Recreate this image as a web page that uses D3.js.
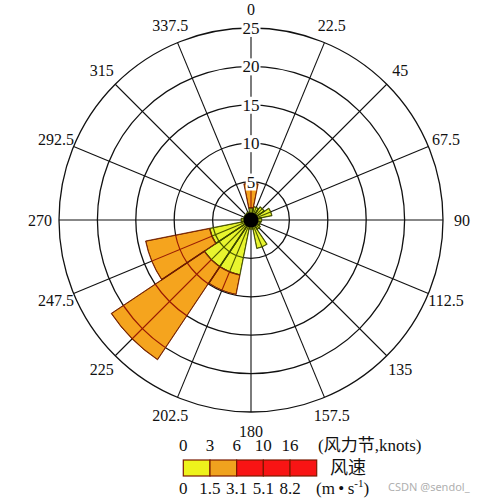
<!DOCTYPE html>
<html lang="en">
<head>
<meta charset="UTF-8">
<title>wind rose</title>
<style>
  body { margin: 0; background: #fff; }
  svg text { font-family: "Liberation Serif", "Noto Sans CJK SC", serif; fill: #111; }
</style>
</head>
<body>
<div id="sv"></div>
<script src="https://cdnjs.cloudflare.com/ajax/libs/d3/7.8.5/d3.min.js"></script>
<script>
// directions (deg) and their labels
var directions = [0, 22.5, 45, 67.5, 90, 112.5, 135, 157.5, 180, 202.5, 225, 247.5, 270, 292.5, 315, 337.5];
var dirLabels = ["0", "22.5", "45", "67.5", "90", "112.5", "135", "157.5", "180", "202.5", "225", "247.5", "270", "292.5", "315", "337.5"];
// frequency per speed class
var calm  = [1.6, 1.8, 2.1, 2.8, 1.4, 1.3, 1.5, 3.8, 1.2, 7.3, 7.3, 5.5, 1.3, 1.0, 1.0, 1.1];  // 0-1.5 m/s
var light = [3.2, 0, 0, 0, 0, 0, 0, 0, 0, 2.6, 14.6, 8.5, 0, 0, 0, 0];                         // 1.5-3.1 m/s
var ringTicks = [5, 10, 15, 20, 25];
// legend
var knotTicks = ["0", "3", "6", "10", "16"];
var msTicks = ["0", "1.5", "3.1", "5.1", "8.2"];
var legendColors = ["#eef21c", "#f0a21e", "#f81414", "#f81414", "#f81414"];

var W = 498, H = 500;
var cx = 251, cy = 220, R = 192;

var svg = d3.select("#sv").append("svg").attr("width", W).attr("height", H);
var g = svg.append("g").attr("transform", "translate(" + cx + "," + cy + ")");

var r = d3.scaleLinear().domain([0, 25]).range([0, R]);
var rad = function (deg) { return deg * Math.PI / 180; };
var half = 11.25;

function drawGrid(sel, color, w) {
    sel.selectAll("circle.ring").data(ringTicks).enter().append("circle")
        .attr("class", "ring")
        .attr("r", d => r(d))
        .attr("fill", "none").attr("stroke", color).attr("stroke-width", w);
    sel.selectAll("line.spoke").data(directions).enter().append("line")
        .attr("class", "spoke")
        .attr("x1", 0).attr("y1", 0)
        .attr("x2", d => r(25) * Math.sin(rad(d)))
        .attr("y2", d => -r(25) * Math.cos(rad(d)))
        .attr("stroke", color).attr("stroke-width", w * 0.85);
}

// base grid
drawGrid(g.append("g"), "#111", 1.3);

// stacked bars
var table = directions.map((d, i) => ({ dir: d, calm: calm[i], light: light[i] }));
var stack = d3.stack().keys(["calm", "light"])(table);
var arc = d3.arc()
    .innerRadius(d => r(d[0]))
    .outerRadius(d => r(d[1]))
    .startAngle(d => rad(d.data.dir - half))
    .endAngle(d => rad(d.data.dir + half));

var fills = { calm: "#e8f52e", light: "#f5a41e" };
var strokes = { calm: "#3c4800", light: "#6e1c00" };
var gridInside = { calm: "#4c5800", light: "#9a1c04" };

var defs = svg.append("defs");
stack.forEach(function (layer) {
    var segs = layer.filter(d => d[1] > d[0]);
    var cp = defs.append("clipPath").attr("id", "clip-" + layer.key);
    cp.selectAll("path").data(segs).enter().append("path").attr("d", arc);
});

stack.forEach(function (layer) {
    var segs = layer.filter(d => d[1] > d[0]);
    g.append("g").selectAll("path").data(segs).enter().append("path")
        .attr("d", arc)
        .attr("fill", fills[layer.key])
        .attr("stroke", strokes[layer.key])
        .attr("stroke-width", 0.8);
    // grid lines seen through the bars
    var gg = g.append("g").attr("clip-path", "url(#clip-" + layer.key + ")");
    drawGrid(gg, gridInside[layer.key], 1.3);
    gg.selectAll("path").data(segs).enter().append("path")
        .attr("d", arc).attr("fill", "none")
        .attr("stroke", strokes[layer.key]).attr("stroke-width", 1.4);
});

// hub
g.append("circle").attr("r", 7.5).attr("fill", "#000");

// ring labels on north axis
var rl = g.append("g").selectAll("g").data(ringTicks).enter().append("g")
    .attr("transform", d => "translate(0," + (-r(d)) + ")");
rl.append("rect").attr("fill", "#fff");
rl.append("text")
    .attr("text-anchor", "middle").attr("dy", "0.35em")
    .attr("font-size", 17)
    .text(d => d);
rl.each(function () {
    var t = d3.select(this).select("text").node().getBBox();
    d3.select(this).select("rect")
        .attr("x", t.x - 1).attr("y", t.y + 1)
        .attr("width", t.width + 2).attr("height", t.height - 2);
});

// direction labels
var rLab = 211;
g.append("g").selectAll("text").data(directions).enter().append("text")
    .attr("x", d => rLab * Math.sin(rad(d)))
    .attr("y", d => -rLab * Math.cos(rad(d)))
    .attr("text-anchor", "middle").attr("dy", "0.35em")
    .attr("font-size", 16)
    .text((d, i) => dirLabels[i]);

// legend
var lx = d3.scaleLinear().domain([0, 5]).range([183.3, 316.7]);
var lg = svg.append("g");
lg.selectAll("rect").data(legendColors).enter().append("rect")
    .attr("x", (d, i) => lx(i)).attr("y", 460)
    .attr("width", lx(1) - lx(0)).attr("height", 16)
    .attr("fill", d => d)
    .attr("stroke", "#7a1a00").attr("stroke-width", 1.2);
lg.selectAll("text.kn").data(knotTicks).enter().append("text")
    .attr("class", "kn")
    .attr("x", (d, i) => lx(i)).attr("y", 451)
    .attr("text-anchor", "middle").attr("font-size", 17)
    .text(d => d);
lg.selectAll("text.ms").data(msTicks).enter().append("text")
    .attr("class", "ms")
    .attr("x", (d, i) => lx(i)).attr("y", 494)
    .attr("text-anchor", "middle").attr("font-size", 17)
    .text(d => d);
lg.append("text").attr("x", 318).attr("y", 451).attr("font-size", 17)
    .text("(风力节,knots)");
lg.append("text").attr("x", 330).attr("y", 474).attr("font-size", 18)
    .text("风速");
var unit = lg.append("text").attr("x", 316).attr("y", 494).attr("font-size", 17);
unit.append("tspan").text("(m\u2009\u2022\u2009s");
unit.append("tspan").attr("dy", -7).attr("font-size", 11).text("-1");
unit.append("tspan").attr("dy", 7).text(")");

svg.append("text").attr("x", 388).attr("y", 491)
    .style("font-family", "Noto Sans, sans-serif").style("fill", "#b0b0b0")
    .attr("font-size", 11).text("CSDN @sendol_");
</script>
</body>
</html>
